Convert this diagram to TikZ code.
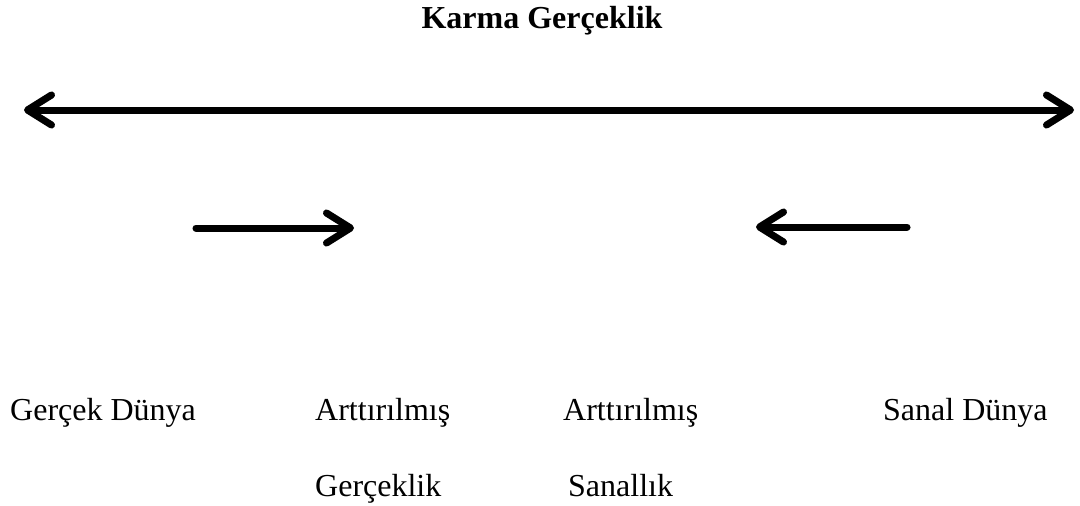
\documentclass[tikz,border=0pt]{standalone}
\usepackage{fontspec}
\setmainfont{Liberation Serif}
\usetikzlibrary{arrows.meta}
\tikzset{
  label/.style={font=\fontsize{32}{36}\selectfont, inner sep=0pt, anchor=base west},
  title/.style={font=\fontsize{32}{36}\selectfont\bfseries, inner sep=0pt, anchor=base},
  barb/.style={Straight Barb[length=24pt,width=30pt,round]},
  thickarrow/.style={line width=7pt, line cap=round, -{Straight Barb[length=24pt,width=30pt,round]}},
  twoway/.style={line width=7pt, line cap=round,
    {Straight Barb[length=24pt,width=30pt,round]}-{Straight Barb[length=24pt,width=30pt,round]}},
  shade/.style={black, opacity=0.18}
}
\begin{document}
\begin{tikzpicture}[x=1pt,y=-1pt]
\useasboundingbox (0,0) rectangle (1080,506);
% title
\node[title] (title) at (542,28) {Karma Gerçeklik};
% end points of the arrows
\coordinate (mainL) at (24,110);
\coordinate (mainR) at (1074,110);
\coordinate (rtail) at (196,228);
\coordinate (rtip) at (354,228);
\coordinate (ltail) at (907,227);
\coordinate (ltip) at (756,227);
% soft shadows
\begin{scope}[shift={(2,3)}]
  \draw[twoway, shade] (mainL) -- (mainR);
  \draw[thickarrow, shade] (rtail) -- (rtip);
  \draw[thickarrow, shade] (ltail) -- (ltip);
\end{scope}
% arrows
\draw[twoway] (mainL) -- (mainR);
\draw[thickarrow] (rtail) -- (rtip);
\draw[thickarrow] (ltail) -- (ltip);
% labels
\node[label] (real) at (10,420) {Gerçek Dünya};
\node[label] (ar1) at (315,420) {Arttırılmış};
\node[label] (ar2) at (315,496) {Gerçeklik};
\node[label] (av1) at (563,420) {Arttırılmış};
\node[label] (av2) at (568,496) {Sanallık};
\node[label] (virt) at (883,420) {Sanal Dünya};
\end{tikzpicture}
\end{document}
